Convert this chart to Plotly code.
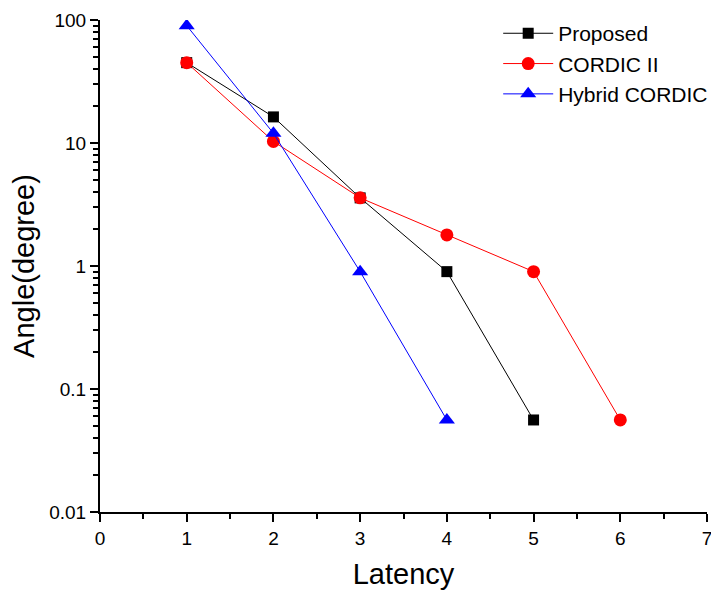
import plotly.graph_objects as go

latency_proposed = [1, 2, 3, 4, 5]
angle_proposed = [45, 16.3, 3.58, 0.9, 0.056]

latency_cordic2 = [1, 2, 3, 4, 5, 6]
angle_cordic2 = [45, 10.3, 3.58, 1.79, 0.9, 0.056]

latency_hybrid = [1, 2, 3, 4]
angle_hybrid = [90, 12, 0.9, 0.056]

x_ticks = [0, 1, 2, 3, 4, 5, 6, 7]
y_tickvals = [0.01, 0.1, 1, 10, 100]
y_ticktext = ["0.01", "0.1", "1", "10", "100"]

FONT = "Liberation Sans, Arial, sans-serif"

fig = go.Figure()
fig.add_trace(go.Scatter(
    x=latency_proposed, y=angle_proposed, name="Proposed", mode="lines+markers",
    line=dict(color="black", width=1),
    marker=dict(symbol="square", size=11, color="black")))
fig.add_trace(go.Scatter(
    x=latency_cordic2, y=angle_cordic2, name="CORDIC II", mode="lines+markers",
    line=dict(color="#ff0000", width=1),
    marker=dict(symbol="circle", size=13, color="#ff0000")))
fig.add_trace(go.Scatter(
    x=latency_hybrid, y=angle_hybrid, name="Hybrid CORDIC", mode="lines+markers",
    line=dict(color="#0000ff", width=1),
    marker=dict(symbol="triangle-up", size=14, color="#0000ff")))

# page body adds an 8px offset, so the figure is sized 711x582
fig.update_layout(
    width=711, height=582,
    margin=dict(l=92, r=12, t=12, b=78, autoexpand=False),
    paper_bgcolor="white", plot_bgcolor="white",
    font=dict(family=FONT, color="black", size=19),
    showlegend=True,
    legend=dict(x=0.656, y=1.014, xanchor="left", yanchor="top",
                font=dict(size=21, family=FONT), bgcolor="rgba(0,0,0,0)",
                itemwidth=50, tracegroupgap=0),
    xaxis=dict(
        range=[0, 7], tickvals=x_ticks, showgrid=False, zeroline=False,
        showline=True, linecolor="black", linewidth=2, automargin=False,
        ticks="outside", ticklen=8, tickwidth=2, tickcolor="black",
        tickfont=dict(size=19),
        minor=dict(dtick=0.5, ticks="outside", ticklen=5, tickwidth=2, tickcolor="black", showgrid=False),
        title=dict(text="Latency", font=dict(size=29), standoff=17),
    ),
    yaxis=dict(
        type="log", range=[-2, 2], tickvals=y_tickvals, ticktext=y_ticktext,
        showgrid=False, zeroline=False, automargin=False,
        showline=True, linecolor="black", linewidth=2,
        ticks="outside", ticklen=8, tickwidth=2, tickcolor="black",
        tickfont=dict(size=19),
        minor=dict(dtick="D1", ticks="outside", ticklen=5, tickwidth=2, tickcolor="black", showgrid=False),
        title=dict(text="Angle(degree)", font=dict(size=29), standoff=12),
    ),
)

fig.write_html("out.html")
